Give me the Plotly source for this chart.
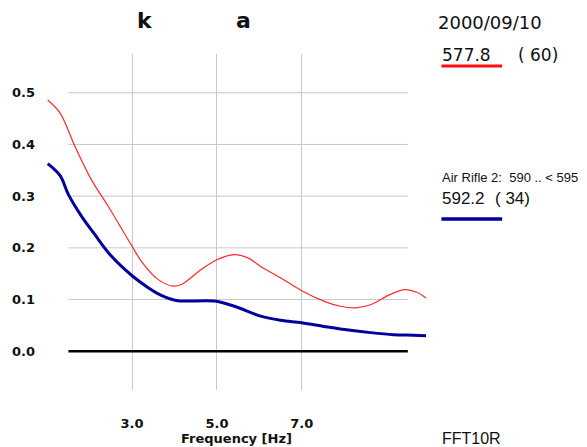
import plotly.graph_objects as go

# ---- data ----
red_freq = [1.01, 1.30, 1.65, 2.04, 2.44, 3.00, 3.22, 3.61, 3.96, 4.16, 4.63, 5.00, 5.41, 5.72, 6.03, 6.50, 7.00, 7.52, 7.91, 8.27, 8.62, 9.09, 9.44, 9.71, 9.93]
red_vals = [0.486, 0.461, 0.397, 0.332, 0.280, 0.203, 0.174, 0.139, 0.126, 0.129, 0.158, 0.177, 0.187, 0.181, 0.164, 0.142, 0.117, 0.097, 0.087, 0.084, 0.090, 0.110, 0.119, 0.114, 0.103]

blue_freq = [1.01, 1.30, 1.50, 1.81, 2.12, 2.51, 3.00, 3.38, 3.69, 4.04, 4.94, 5.41, 6.03, 6.50, 7.00, 7.52, 7.91, 8.62, 9.16, 9.63, 9.93]
blue_vals = [0.363, 0.340, 0.303, 0.261, 0.226, 0.184, 0.146, 0.123, 0.108, 0.098, 0.097, 0.087, 0.068, 0.060, 0.055, 0.048, 0.043, 0.036, 0.032, 0.031, 0.030]

x_ticks = [3.0, 5.0, 7.0]
x_tick_labels = ["3.0", "5.0", "7.0"]
y_ticks = [0.0, 0.1, 0.2, 0.3, 0.4, 0.5]
y_tick_labels = ["0.0", "0.1", "0.2", "0.3", "0.4", "0.5"]
grid_x_span = [1.5, 9.5]

W, H = 587, 447
L, R, T, B = 41, 158, 54, 57
PW, PH = W - L - R, H - T - B


def px(x):
    return (x - L) / PW


def py(y):
    return 1 - (y - T) / PH


fig = go.Figure()
fig.add_trace(go.Scatter(x=red_freq, y=red_vals, mode="lines",
                         line=dict(color="#ff2a2a", width=1.2, shape="spline"),
                         showlegend=False, hoverinfo="skip"))
fig.add_trace(go.Scatter(x=blue_freq, y=blue_vals, mode="lines",
                         line=dict(color="#00009c", width=3, shape="spline"),
                         showlegend=False, hoverinfo="skip"))

shapes = []
for v in y_ticks:
    if v == 0:
        shapes.append(dict(type="line", xref="x", yref="y", x0=grid_x_span[0], x1=grid_x_span[1],
                           y0=v, y1=v, line=dict(color="black", width=2.5), layer="above"))
    else:
        shapes.append(dict(type="line", xref="x", yref="y", x0=grid_x_span[0], x1=grid_x_span[1],
                           y0=v, y1=v, line=dict(color="#c8c8c8", width=1), layer="below"))

# legend swatches
shapes.append(dict(type="line", xref="paper", yref="paper", x0=px(441.5), x1=px(502.5),
                   y0=py(66), y1=py(66), line=dict(color="#ff1010", width=3)))
shapes.append(dict(type="line", xref="paper", yref="paper", x0=px(441.5), x1=px(502.5),
                   y0=py(219), y1=py(219), line=dict(color="#00009c", width=3.5)))

ann = []
def text(t, x, y, size, fam="DejaVu Sans", bold=False, xanchor="left", color="#111"):
    ann.append(dict(text=("<b>%s</b>" % t) if bold else t, x=px(x), y=py(y), xref="paper", yref="paper",
                    xanchor=xanchor, yanchor="middle", showarrow=False,
                    font=dict(size=size, family=fam, color=color)))

text("k", 143.5, 21, 22, bold=True, xanchor="center")
text("a", 242.5, 21, 22, bold=True, xanchor="center")
text("2000/09/10", 436, 22.5, 18)
text("577.8", 440, 55.5, 17)
text("( 60)", 516, 55.5, 17)
text("Air Rifle 2:  590 .. &lt; 595", 440, 177, 13, fam="Liberation Sans")
text("592.2", 440, 198, 17, fam="Liberation Sans")
text("( 34)", 493, 198, 17, fam="Liberation Sans")
text("FFT10R", 440, 438, 16, fam="Liberation Sans")
text("Frequency [Hz]", 235, 438, 13, bold=True, xanchor="center")

fig.update_layout(
    width=W, height=H, margin=dict(l=L, r=R, t=T, b=B),
    paper_bgcolor="white", plot_bgcolor="white",
    shapes=shapes, annotations=ann, showlegend=False,
    xaxis=dict(range=[0.9, 10.0], tickvals=x_ticks, ticktext=x_tick_labels,
               showgrid=True, gridcolor="#c8c8c8", gridwidth=1, zeroline=False,
               showline=False, ticks="", ticklabelstandoff=24,
               tickfont=dict(family="DejaVu Sans", size=13, color="#111", weight="bold")),
    yaxis=dict(range=[-0.075, 0.575], tickvals=y_ticks, ticktext=y_tick_labels,
               showgrid=False, zeroline=False, showline=False, ticks="", ticklabelstandoff=7,
               tickfont=dict(family="DejaVu Sans", size=13, color="#111", weight="bold")),
)

fig.write_html("out.html", config={"displayModeBar": False},
               post_script="document.body.style.margin='0';document.body.style.overflow='hidden';")
